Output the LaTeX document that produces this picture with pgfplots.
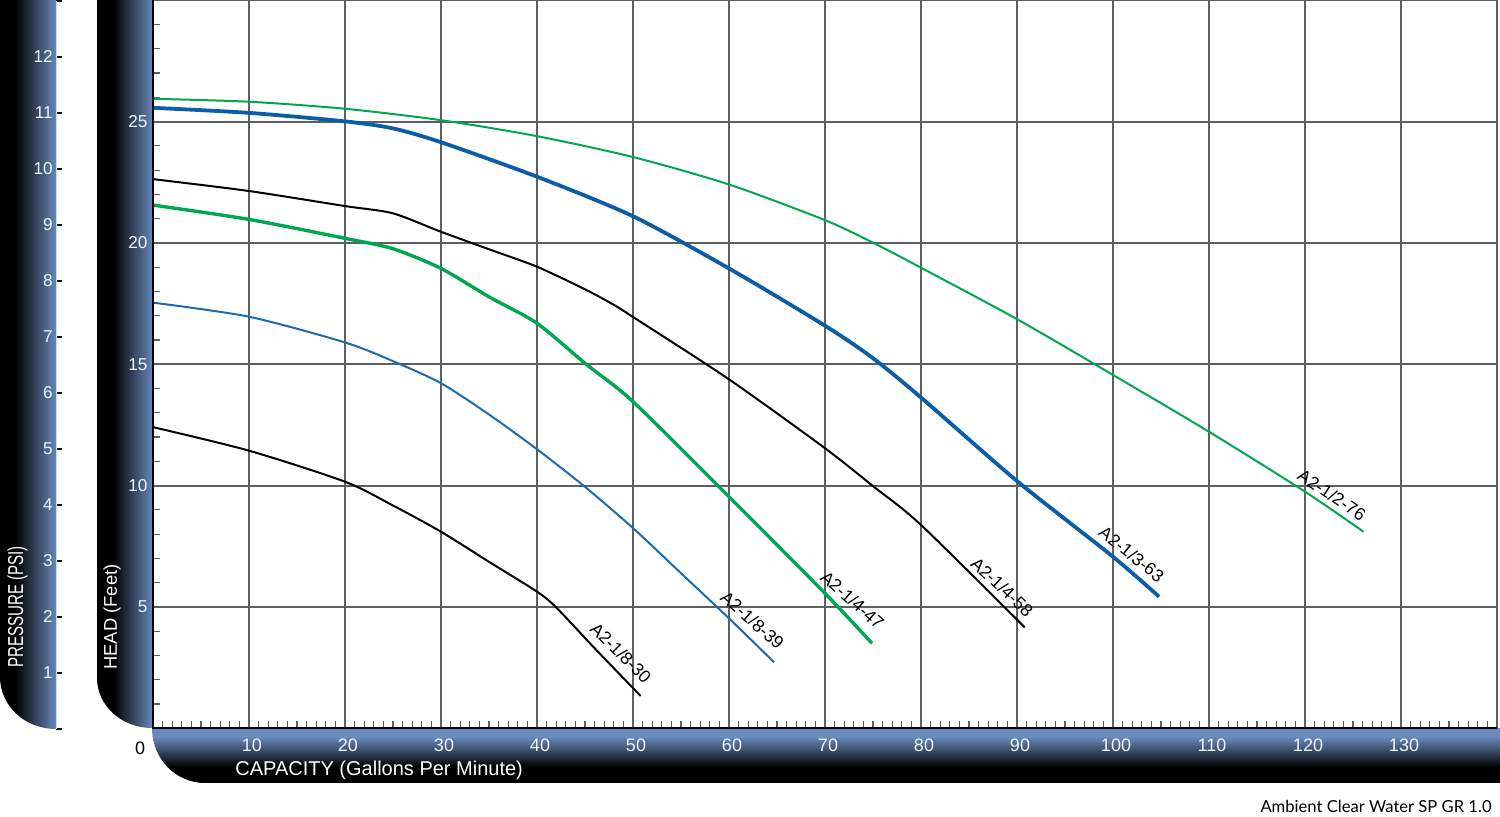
\documentclass[border=0pt]{standalone}
\usepackage{graphicx}
\usepackage{pgfplots}
\pgfplotsset{compat=1.18}
\usepackage{fontspec}
\setmainfont{Liberation Sans}
\newfontfamily\notefont{Lato}
\definecolor{bandblue}{RGB}{104,137,186}
\definecolor{bandmid}{RGB}{72,86,112}
\definecolor{lightedge}{RGB}{205,222,245}
\definecolor{tickwhite}{RGB}{238,243,250}
\definecolor{cgreen}{RGB}{0,166,80}
\definecolor{cblue}{RGB}{11,93,168}
\definecolor{cbluethin}{RGB}{28,107,176}
\definecolor{gridgray}{RGB}{95,95,95}

\begin{document}
\begin{tikzpicture}
\path[use as bounding box] (0,0) rectangle (750pt,408.5pt);

% ---- decorative bands (pixel coordinates, y downwards) ----
\begin{scope}[x=0.5pt,y=-0.5pt,shift={(0,408.5pt)}]
  % pressure band
  \begin{scope}
    \clip (0,-2) -- (0,677) .. controls (0,705.7) and (24.6,729) .. (56,729) -- (56,-2) -- cycle;
    \fill[black] (-1,-2) rectangle (15,731);
    \shade[left color=black,middle color=bandmid,right color=bandblue] (15,-2) rectangle (56.5,731);
  \end{scope}
  % head band
  \begin{scope}
    \clip (97,-2) -- (97,678) .. controls (97,705.6) and (121.6,728) .. (152,728) -- (152,-2) -- cycle;
    \fill[black] (96,-2) rectangle (113,731);
    \shade[left color=black,middle color=bandmid,right color=bandblue] (113,-2) rectangle (153,731);
  \end{scope}
  % bottom band
  \begin{scope}
    \clip (152,728) -- (1502,728) -- (1502,783) -- (205,783) .. controls (175.7,783) and (152,758.8) .. (152,728) -- cycle;
    \fill[bandblue] (150,727) rectangle (1503,737);
    \shade[top color=bandblue,middle color=bandmid,bottom color=black] (150,737) rectangle (1503,767);
    \fill[black] (150,767) rectangle (1503,785);
  \end{scope}
  % band titles
  \node[rotate=90,text=white,font=\fontsize{10.8}{12}\selectfont,inner sep=0pt] at (17.5,607) {\scalebox{0.7}[1]{PRESSURE (PSI)}};
  \node[rotate=90,text=white,font=\fontsize{9.2}{11}\selectfont,inner sep=0pt] at (112,617) {HEAD (Feet)};
  \node[anchor=west,text=white,font=\fontsize{10}{12}\selectfont,inner sep=0pt] at (235,770) {CAPACITY (Gallons Per Minute)};
  \node[anchor=east,text=black,font=\notefont\fontsize{8.3}{10}\selectfont,inner sep=0pt] at (1492,806) {Ambient Clear Water SP GR 1.0};
\end{scope}

% ---- pressure scale ----
\begin{axis}[
  at={(28.25pt,44pt)}, anchor=south west,
  scale only axis, width=5pt, height=364pt,
  xmin=0, xmax=1, ymin=0, ymax=13,
  axis x line=none, axis y line*=left,
  y axis line style={draw=lightedge, line width=0.8pt, -},
  ytick={0,1,2,3,4,5,6,7,8,9,10,11,12,13},
  yticklabels={,1,2,3,4,5,6,7,8,9,10,11,12,},
  tick align=inside, major tick length=3pt,
  major tick style={black, line width=0.6pt},
  y tick label style={text=tickwhite, font=\fontsize{8.6}{10}\selectfont, xshift=1.6pt},
]
\addplot[draw=none] coordinates {(0,0) (1,13)};
\end{axis}

% ---- main chart ----
\begin{axis}[
  at={(76.5pt,44.35pt)}, anchor=south west,
  scale only axis, width=672pt, height=364pt,
  xmin=0, xmax=140, ymin=0, ymax=30,
  xtick={0,10,...,140}, ytick={0,5,...,30},
  xticklabels={,10,20,30,40,50,60,70,80,90,100,110,120,130,},
  yticklabels={,5,10,15,20,25,},
  minor x tick num=9, minor y tick num=4,
  tick align=inside, tick pos=left,
  major tick length=0pt, minor tick length=3.6pt,
  minor tick style={gridgray, line width=0.6pt},
  grid=major, major grid style={gridgray, line width=0.9pt},
  axis line style={gridgray, line width=0.9pt},
  x tick label style={text=tickwhite, font=\fontsize{9}{10}\selectfont, yshift=-2pt, xshift=1.5pt},
  y tick label style={text=tickwhite, font=\fontsize{8.6}{10}\selectfont, xshift=0.8pt},
  clip=false,
]
% A2-1/8-30
\addplot[black, line width=1pt, smooth, tension=0.45] coordinates {
 (0,12.41) (10,11.44) (20,10.16) (25,9.18) (30,8.10) (35,6.86) (40,5.63) (42,4.98) (46,3.30) (50.8,1.33)};
% A2-1/8-39
\addplot[cbluethin, line width=1pt, smooth, tension=0.45] coordinates {
 (0,17.54) (10,16.96) (20,15.90) (25,15.13) (30,14.22) (35,12.93) (40,11.50) (45,9.95) (50,8.25) (55,6.39) (60,4.53) (64.7,2.72)};
% A2-1/4-47
\addplot[cgreen, line width=1.7pt, smooth, tension=0.45] coordinates {
 (0,21.56) (10,20.97) (20,20.19) (25,19.76) (30,18.95) (35,17.78) (40,16.69) (45,15.04) (50,13.46) (60,9.54) (70,5.56) (74.9,3.50)};
% A2-1/4-58
\addplot[black, line width=1pt, smooth, tension=0.45] coordinates {
 (0,22.63) (10,22.14) (20,21.52) (25,21.22) (30,20.46) (35,19.74) (40,19.02) (45,18.09) (48,17.45) (50,16.95) (60,14.38) (70,11.54) (75,9.98) (80,8.38) (90.8,4.16)};
% A2-1/3-63
\addplot[cblue, line width=1.9pt, smooth, tension=0.45] coordinates {
 (0,25.57) (10,25.36) (20,25.01) (25,24.72) (30,24.15) (40,22.73) (50,21.10) (60,18.95) (70,16.59) (75,15.25) (80,13.63) (90,10.19) (100,7.07) (104.8,5.42)};
% A2-1/2-76
\addplot[cgreen, line width=1pt, smooth, tension=0.45] coordinates {
 (0,25.94) (10,25.82) (20,25.53) (30,25.06) (40,24.40) (50,23.54) (60,22.41) (70,20.94) (75,20.01) (80,18.98) (90,16.86) (100,14.56) (110,12.22) (120,9.75) (126.1,8.10)};

\draw[black, line width=1.1pt] (rel axis cs:0,1) -- (rel axis cs:0,0) -- (rel axis cs:1,0);

\begin{scope}[every node/.style={font=\fontsize{8.8}{10}\selectfont, inner sep=0pt, text=black}]
\node[rotate=-45]   at (axis cs:48.75,3.1) {A2-1/8-30};
\node[rotate=-41.5] at (axis cs:62.45,4.46) {A2-1/8-39};
\node[rotate=-41.5] at (axis cs:72.85,5.29) {A2-1/4-47};
\node[rotate=-43]   at (axis cs:88.45,5.82) {A2-1/4-58};
\node[rotate=-39]   at (axis cs:101.95,7.18) {A2-1/3-63};
\node[rotate=-34]   at (axis cs:122.8,9.62) {A2-1/2-76};
\node at (axis cs:-1.35,-0.81) {\fontsize{9}{10}\selectfont 0};
\end{scope}
\end{axis}
\end{tikzpicture}
\end{document}
